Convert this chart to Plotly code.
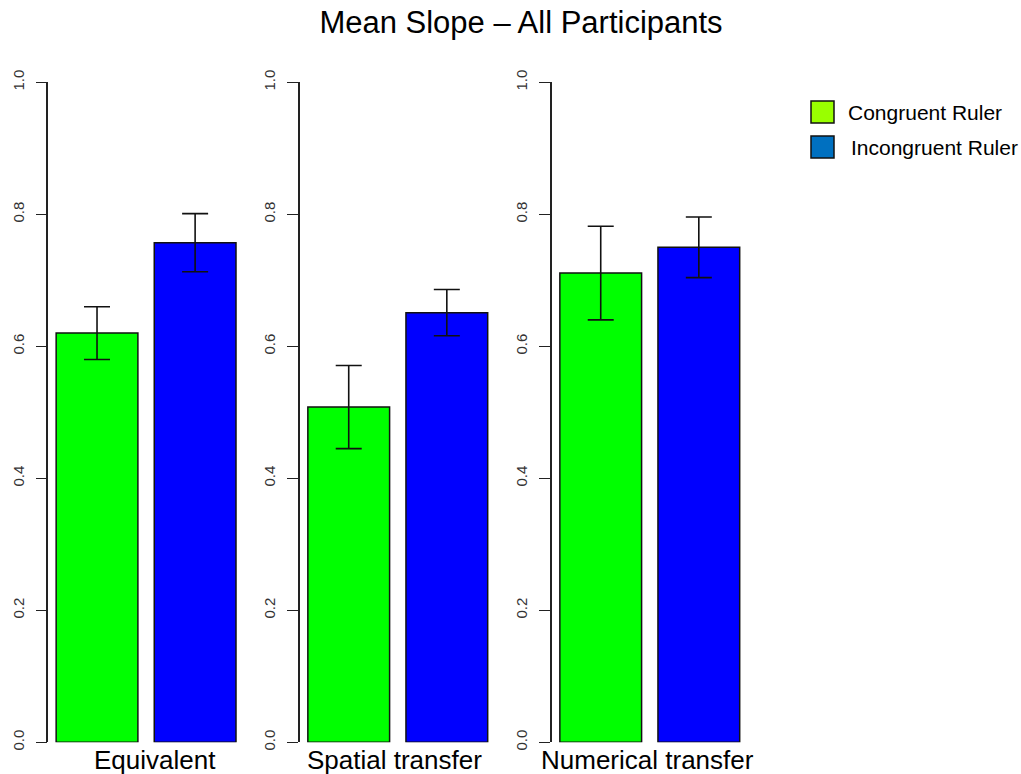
import plotly.graph_objects as go

# ---- data ----
panels = ["Equivalent", "Spatial transfer", "Numerical transfer"]
series = ["Congruent Ruler", "Incongruent Ruler"]
congruent_mean = [0.620, 0.508, 0.711]
congruent_se = [0.040, 0.063, 0.071]
incongruent_mean = [0.757, 0.651, 0.750]
incongruent_se = [0.044, 0.035, 0.046]
y_ticks = [0.0, 0.2, 0.4, 0.6, 0.8, 1.0]
y_tick_labels = ["0.0", "0.2", "0.4", "0.6", "0.8", "1.0"]

# ---- styling ----
W, H = 1021, 774
M_T, M_B = 40, 30            # fixed margins; everything is placed in pixels below
bar_colors = ["#00ff00", "#0000ff"]
legend_colors = ["#99ff00", "#0070c0"]
bar_x = [0.7, 1.9]          # barplot-style positions (width 1, space 0.2)
x_range = [0.104, 2.696]
px_per_unit = 81.75
axis_left_px = [48.3, 300.0, 552.0]
y0_px, y1_px = 742.3, 82.3   # pixel rows of 0.0 and 1.0
label_center_px = [155, 394, 647]
font = "Liberation Sans, Arial, sans-serif"


def px_x(px):
    return px / W


def px_y(px):
    # pixel row (from top of page) -> paper fraction of the plotting area
    return (H - M_B - px) / (H - M_T - M_B)


fig = go.Figure()
layout_axes = {}
for i, name in enumerate(panels):
    k = "" if i == 0 else str(i + 1)
    x0 = axis_left_px[i]
    x1 = x0 + (x_range[1] - x_range[0]) * px_per_unit
    means = [congruent_mean[i], incongruent_mean[i]]
    ses = [congruent_se[i], incongruent_se[i]]
    fig.add_trace(go.Bar(
        x=bar_x, y=means, width=[1, 1],
        marker=dict(color=bar_colors, line=dict(color="#111111", width=1.5)),
        error_y=dict(type="data", array=ses, visible=True,
                     color="#111111", thickness=1.6, width=13),
        xaxis="x" + k, yaxis="y" + k, showlegend=False, cliponaxis=False,
        hovertemplate="%{y:.3f}<extra>" + name + "</extra>",
    ))
    layout_axes["xaxis" + k] = dict(
        domain=[px_x(x0), px_x(x1)], range=x_range, visible=False,
        anchor="y" + k, fixedrange=True, automargin=False)
    layout_axes["yaxis" + k] = dict(
        domain=[px_y(y0_px), px_y(y1_px)], range=[0, 1],
        anchor="x" + k, showline=True, linecolor="#222222", linewidth=1.5,
        ticks="outside", ticklen=11, tickwidth=1.2, tickcolor="#222222",
        tickvals=y_ticks, ticktext=y_tick_labels, tickangle=-90,
        tickfont=dict(family=font, size=15, color="#333333"),
        ticklabelstandoff=6, showgrid=False, zeroline=False,
        fixedrange=True, automargin=False)

annotations = []
for i, name in enumerate(panels):
    annotations.append(dict(
        text=name, x=px_x(label_center_px[i]), y=px_y(760),
        xref="paper", yref="paper", xanchor="center", yanchor="middle",
        showarrow=False, font=dict(family=font, size=26, color="#000000")))

# legend drawn as boxes plus text
shapes = []
legend_rows_px = [112, 147]
legend_text_px = [846, 849]
for j, s in enumerate(series):
    cy = legend_rows_px[j]
    shapes.append(dict(
        type="rect", xref="paper", yref="paper",
        x0=px_x(811), x1=px_x(834), y0=px_y(cy - 11), y1=px_y(cy + 11),
        fillcolor=legend_colors[j], line=dict(color="#111111", width=1.5)))
    annotations.append(dict(
        text=s, x=px_x(legend_text_px[j]), y=px_y(cy),
        xref="paper", yref="paper", xanchor="left", yanchor="middle",
        showarrow=False, font=dict(family=font, size=21, color="#000000")))

fig.update_layout(
    width=W, height=H,
    margin=dict(l=0, r=0, t=M_T, b=M_B, autoexpand=False),
    paper_bgcolor="white", plot_bgcolor="white",
    barmode="overlay",
    title=dict(text="Mean Slope – All Participants", x=521 / W, y=1 - 22 / H,
               xref="container", yref="container",
               xanchor="center", yanchor="middle", automargin=False,
               font=dict(family=font, size=31, color="#000000")),
    annotations=annotations, shapes=shapes,
    **layout_axes,
)

fig.write_html("out.html")
